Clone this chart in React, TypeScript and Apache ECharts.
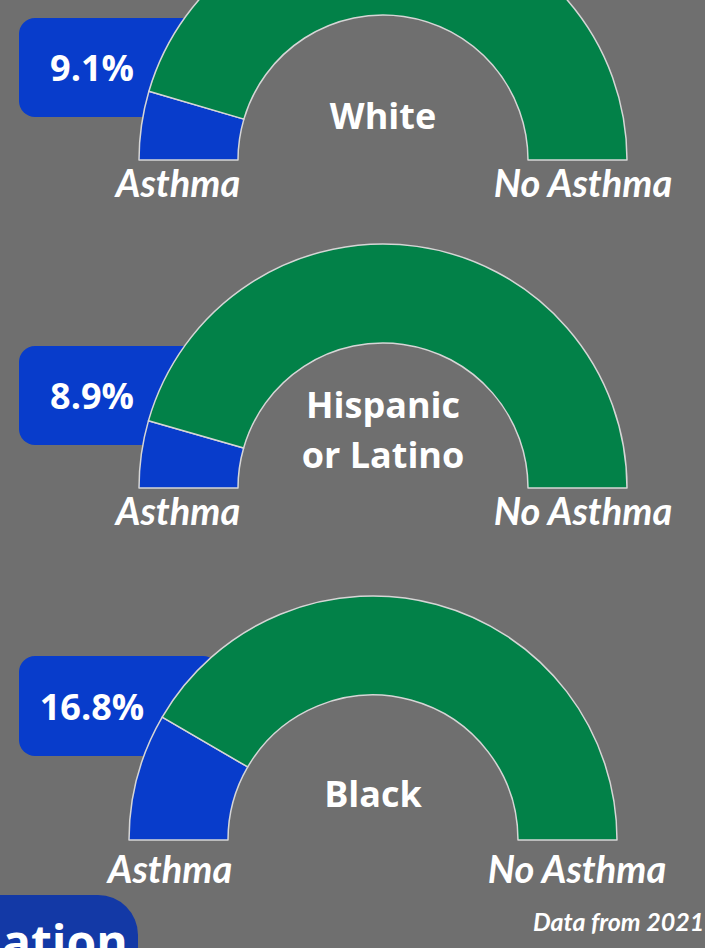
import React, { useEffect, useRef } from "react";
import * as echarts from "echarts";

const groups = ["White", "Hispanic\nor Latino", "Black"];
const asthmaPct = [9.1, 8.9, 16.8];
const sliceNames = ["Asthma", "No Asthma"];
const footnote = "Data from 2021";
const footerTag = "ation";

const BG = "#6f6f6f";
const BLUE = "#083ccb";
const GREEN = "#028148";

const layouts = [
  { cx: 383, cy: 160, box: [19, 18, 200, 99], labelY: 115, subY: 182, subL: 178, subR: 583 },
  { cx: 383, cy: 488, box: [19, 346, 200, 99], labelY: 429, subY: 510, subL: 178, subR: 583 },
  { cx: 373, cy: 840, box: [19, 656, 200, 100], labelY: 793, subY: 868, subL: 170, subR: 577 },
];

export default function App() {
  const ref = useRef<HTMLDivElement>(null);
  useEffect(() => {
    const chart = echarts.init(ref.current!, null, { renderer: "svg" });
    const series: any[] = [];
    const graphic: any[] = [];
    groups.forEach((g, i) => {
      const L = layouts[i];
      series.push({
        type: "pie",
        z: 2,
        center: [L.cx, L.cy],
        radius: [145, 244],
        startAngle: 180,
        endAngle: 0,
        clockwise: true,
        silent: true,
        label: { show: false },
        labelLine: { show: false },
        itemStyle: { borderColor: "#d6d6d6", borderWidth: 1.5 },
        data: [
          { name: sliceNames[0], value: asthmaPct[i], itemStyle: { color: BLUE } },
          { name: sliceNames[1], value: 100 - asthmaPct[i], itemStyle: { color: GREEN } },
        ],
      });
      graphic.push({
        type: "rect",
        z: 0,
        shape: { x: L.box[0], y: L.box[1], width: L.box[2], height: L.box[3], r: 16 },
        style: { fill: BLUE },
      });
      graphic.push({
        type: "text",
        z: 10,
        x: 92,
        y: L.box[1] + L.box[3] / 2,
        style: {
          text: `${asthmaPct[i].toFixed(1)}%`,
          fill: "#ffffff",
          font: "bold 36px 'Open Sans'",
          align: "center",
          verticalAlign: "middle",
        },
      });
      graphic.push({
        type: "text",
        z: 10,
        x: L.cx,
        y: L.labelY,
        style: {
          text: g,
          fill: "#ffffff",
          font: "bold 36px 'Open Sans'",
          lineHeight: 50,
          align: "center",
          verticalAlign: "middle",
        },
      });
      graphic.push({
        type: "text",
        z: 10,
        x: L.subL,
        y: L.subY,
        style: {
          text: sliceNames[0],
          fill: "#ffffff",
          font: "italic bold 38px Lato",
          align: "center",
          verticalAlign: "middle",
        },
      });
      graphic.push({
        type: "text",
        z: 10,
        x: L.subR,
        y: L.subY,
        style: {
          text: sliceNames[1],
          fill: "#ffffff",
          font: "italic bold 38px Lato",
          align: "center",
          verticalAlign: "middle",
        },
      });
    });
    graphic.push({
      type: "rect",
      z: 0,
      shape: { x: -40, y: 895, width: 178, height: 100, r: 40 },
      style: { fill: "#1339a6" },
    });
    graphic.push({
      type: "text",
      z: 10,
      x: 2,
      y: 965,
      style: {
        text: footerTag,
        fill: "#ffffff",
        font: "bold 48px 'Open Sans'",
        align: "left",
        verticalAlign: "bottom",
      },
    });
    graphic.push({
      type: "text",
      z: 10,
      x: 533,
      y: 921,
      style: {
        text: footnote,
        fill: "#ffffff",
        font: "italic bold 25px Lato",
        align: "left",
        verticalAlign: "middle",
      },
    });
    chart.setOption({
      animation: false,
      backgroundColor: BG,
      series,
      graphic,
    });
    return () => chart.dispose();
  }, []);
  return (
    <div
      ref={ref}
      style={{ position: "fixed", left: 0, top: 0, width: 705, height: 948 }}
    />
  );
}
